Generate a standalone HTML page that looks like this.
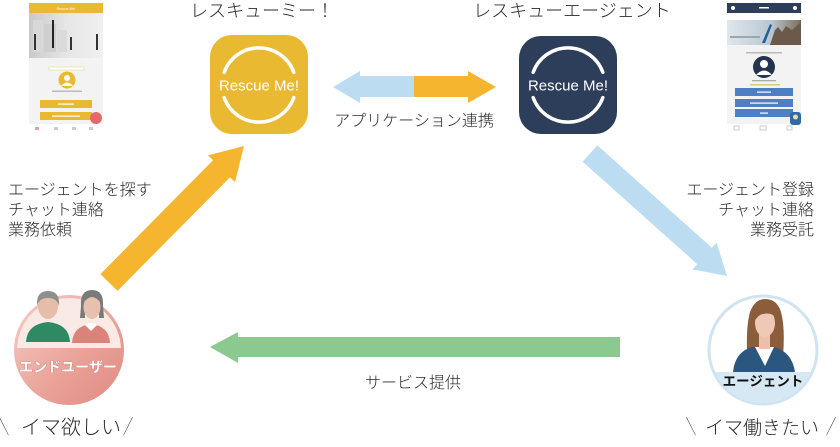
<!DOCTYPE html>
<html>
<head>
<meta charset="utf-8">
<style>
html,body{margin:0;padding:0;background:#fff;}
body{width:840px;height:447px;overflow:hidden;}
svg{display:block;}
.jp{font-family:"Liberation Sans","Noto Sans CJK JP",sans-serif;fill:#2a2a2a;font-weight:300;}
</style>
</head>
<body>
<svg width="840" height="447" viewBox="0 0 840 447" xmlns="http://www.w3.org/2000/svg">
<defs>
  <linearGradient id="gUser" x1="0" y1="0" x2="1" y2="1">
    <stop offset="0" stop-color="#f4cfc6"/>
    <stop offset="0.6" stop-color="#e9a097"/>
    <stop offset="1" stop-color="#e08a82"/>
  </linearGradient>
  <linearGradient id="gPhoto1" x1="0" y1="0" x2="1" y2="0">
    <stop offset="0" stop-color="#c9c9c9"/>
    <stop offset="0.5" stop-color="#e6e6e6"/>
    <stop offset="1" stop-color="#f0f0f0"/>
  </linearGradient>
  <linearGradient id="gPhoto2" x1="0" y1="0" x2="1" y2="0">
    <stop offset="0" stop-color="#dfe6ec"/>
    <stop offset="0.6" stop-color="#b9c7d3"/>
    <stop offset="1" stop-color="#7d6d5c"/>
  </linearGradient>
  <clipPath id="cUser"><circle cx="69" cy="350" r="52"/></clipPath>
  <clipPath id="cAgent"><circle cx="763" cy="350" r="52.5"/></clipPath>
</defs>

<!-- Titles -->
<text class="jp" x="262" y="17" font-size="18" text-anchor="middle">レスキューミー！</text>
<text class="jp" x="572" y="17" font-size="18" text-anchor="middle">レスキューエージェント</text>

<!-- Left phone -->
<g>
  <rect x="29" y="3" width="74" height="130" fill="#f3f3f3"/>
  <rect x="29" y="3" width="74" height="10" fill="#e9b931"/>
  <text x="66" y="10" font-size="3.5" fill="#fff" text-anchor="middle" font-family="Liberation Sans, sans-serif">Rescue Me!</text>
  <rect x="29" y="13" width="74" height="45" fill="url(#gPhoto1)"/>
  <rect x="33" y="20" width="10" height="32" fill="#d8d8d8"/>
  <rect x="44" y="24" width="12" height="28" fill="#cfcfcf"/>
  <rect x="57" y="30" width="10" height="22" fill="#dadada"/>
  <rect x="34" y="34" width="2" height="16" fill="#333"/>
  <rect x="52" y="20" width="2" height="28" fill="#222"/>
  <rect x="70" y="37" width="2" height="13" fill="#333"/>
  <rect x="96" y="34" width="2" height="16" fill="#333"/>
  <rect x="49" y="67" width="35" height="3" fill="#fff" stroke="#ecd48a" stroke-width="0.6"/>
  <circle cx="67" cy="80" r="8.5" fill="#e9b931"/>
  <circle cx="67" cy="78" r="3" fill="#fff"/>
  <path d="M61,86 Q67,79 73,86 Z" fill="#fff"/>
  <rect x="52" y="90.5" width="30" height="1.5" fill="#bbb"/>
  <rect x="40" y="100" width="52" height="8" fill="#e9b931"/>
  <rect x="40" y="112" width="52" height="8" fill="#e9b931"/>
  <rect x="58" y="103.5" width="16" height="1.2" fill="#fff"/>
  <rect x="52" y="115.5" width="28" height="1.2" fill="#fff"/>
  <rect x="29" y="124" width="74" height="9" fill="#fff"/>
  <circle cx="96" cy="118" r="6" fill="#e26a6a"/>
  <rect x="35" y="127" width="4" height="3" fill="#e9a0a0"/>
  <rect x="54" y="127" width="4" height="3" fill="#ccc"/>
  <rect x="72" y="127" width="4" height="3" fill="#ccc"/>
  <rect x="89" y="127" width="4" height="3" fill="#ccc"/>
</g>

<!-- Right phone -->
<g>
  <rect x="727" y="3" width="74" height="130" fill="#f3f3f3"/>
  <rect x="727" y="3" width="74" height="10" fill="#2c3e5a"/>
  <circle cx="733" cy="8" r="2" fill="#fff"/>
  <circle cx="795" cy="8" r="2" fill="#fff"/>
  <rect x="759" y="7" width="10" height="1.5" fill="#fff"/>
  <rect x="727" y="13" width="74" height="7" fill="#fff"/>
  <rect x="727" y="20" width="74" height="25" fill="url(#gPhoto2)"/>
  <path d="M770,45 L775,30 L778,27 L782,32 L786,26 L792,30 L801,22 L801,45 Z" fill="#6b5a4a"/>
  <path d="M762,43 L770,24 L772,25 L765,43 Z" fill="#1f5f9a"/>
  <rect x="730" y="36" width="30" height="2" fill="#9aa6b0"/>
  <rect x="746" y="52" width="36" height="1.5" fill="#bbb"/>
  <circle cx="764" cy="67" r="11" fill="#22344e"/>
  <circle cx="764" cy="64" r="4" fill="#fff"/>
  <path d="M756,75 Q764,66 772,75 Z" fill="#fff"/>
  <rect x="752" y="80" width="24" height="1.3" fill="#aaa"/>
  <rect x="750" y="84" width="30" height="1.5" fill="#d8c878"/>
  <rect x="735" y="88" width="58" height="8" fill="#4d7fc4"/>
  <rect x="735" y="99" width="58" height="8" fill="#4d7fc4"/>
  <rect x="735" y="109" width="58" height="8" fill="#4d7fc4"/>
  <rect x="757" y="91.5" width="14" height="1.2" fill="#fff"/>
  <rect x="750" y="102.5" width="28" height="1.2" fill="#fff"/>
  <rect x="760" y="112.5" width="8" height="1.2" fill="#fff"/>
  <rect x="727" y="124" width="74" height="9" fill="#fff"/>
  <rect x="734" y="126" width="5" height="4" fill="none" stroke="#aaa" stroke-width="0.6"/>
  <rect x="760" y="126" width="6" height="4" fill="none" stroke="#aaa" stroke-width="0.6"/>
  <rect x="787" y="126" width="5" height="4" fill="none" stroke="#aaa" stroke-width="0.6"/>
  <rect x="790" y="112" width="11" height="13" rx="3" fill="#2f6aa8"/>
  <circle cx="795.5" cy="117" r="2.5" fill="#f1d9a8"/>
</g>

<!-- Yellow icon -->
<rect x="210" y="35" width="98" height="99" rx="22" fill="#e9b931"/>
<path d="M224.2,72.3 A37,37 0 0 1 293.8,72.3" fill="none" stroke="#fff" stroke-width="3.5" stroke-linecap="round"/>
<path d="M224.2,97.7 A37,37 0 0 0 293.8,97.7" fill="none" stroke="#fff" stroke-width="3.5" stroke-linecap="round"/>
<text x="259" y="90.5" font-size="15" fill="#fff" text-anchor="middle" font-family="Liberation Sans, sans-serif">Rescue Me!</text>

<!-- Dark icon -->
<rect x="519" y="36" width="98" height="98" rx="22" fill="#2c3e5a"/>
<path d="M533.2,72.3 A37,37 0 0 1 602.8,72.3" fill="none" stroke="#fff" stroke-width="3.5" stroke-linecap="round"/>
<path d="M533.2,97.7 A37,37 0 0 0 602.8,97.7" fill="none" stroke="#fff" stroke-width="3.5" stroke-linecap="round"/>
<text x="568" y="90.5" font-size="15" fill="#fff" text-anchor="middle" font-family="Liberation Sans, sans-serif">Rescue Me!</text>

<!-- Double arrow -->
<polygon points="333,87 360,71 360,76 414,76 414,97 360,97 360,103" fill="#bcdcf2"/>
<polygon points="414,76 468,76 468,71 496,87 468,103 468,97 414,97" fill="#f5b52e"/>
<text class="jp" x="414" y="126" font-size="16" text-anchor="middle">アプリケーション連携</text>

<!-- Yellow diagonal arrow -->
<polygon points="117.5,290.9 230,177.2 235,182.1 244,146 208,155.4 213,160.3 100.5,274.1" fill="#f5b52e"/>

<!-- Blue diagonal arrow -->
<polygon points="582.7,161.7 697.3,264.2 692.6,269.4 727,276 716.6,242.6 711.9,247.8 597.3,145.3" fill="#bcdcf2"/>

<!-- Left labels -->
<text class="jp" x="8" y="195" font-size="16">エージェントを探す</text>
<text class="jp" x="8" y="215" font-size="16">チャット連絡</text>
<text class="jp" x="8" y="235" font-size="16">業務依頼</text>

<!-- Right labels -->
<text class="jp" x="814" y="195" font-size="16" text-anchor="end">エージェント登録</text>
<text class="jp" x="814" y="215" font-size="16" text-anchor="end">チャット連絡</text>
<text class="jp" x="814" y="235" font-size="16" text-anchor="end">業務受託</text>

<!-- Green arrow -->
<polygon points="210,347 238,332 238,337 620,337 620,357 238,357 238,363" fill="#8cc990"/>
<text class="jp" x="413" y="388" font-size="16" text-anchor="middle">サービス提供</text>

<!-- End user circle -->
<g>
  <circle cx="69" cy="350" r="55" fill="url(#gUser)"/>
  <g clip-path="url(#cUser)">
    <rect x="10" y="290" width="118" height="58" rx="4" fill="#faeae6"/>
  </g>
  <path d="M26,342 Q27,324 48,322 Q69,324 70,342 Z" fill="#2d8a63"/>
  <ellipse cx="48" cy="306" rx="10" ry="13" fill="#e6bcab"/>
  <path d="M37,306 Q36,291 48,291 Q60,291 59,306 Q57,298 48,298 Q39,298 37,306 Z" fill="#8e8e8e"/>
  <path d="M72,343 Q73,326 91,324 Q109,326 110,343 Z" fill="#d9837b"/>
  <path d="M85,325 L91,331 L97,325 L94,323 L88,323 Z" fill="#fff"/>
  <path d="M81,306 Q80,290 92,290 Q104,290 103,306 L104,318 L99,318 L99,304 L85,304 L85,318 L80,318 Z" fill="#7a7a7a"/>
  <ellipse cx="92" cy="307" rx="8.5" ry="12" fill="#e8c0b0"/>
  <path d="M83,303 Q84,293 92,293 Q100,293 101,303 Q96,297 92,297 Q88,297 83,303 Z" fill="#7a7a7a"/>
  <text x="68" y="372" font-size="14" font-weight="bold" fill="#fff" text-anchor="middle" stroke="#b86a62" stroke-width="0.6" paint-order="stroke" font-family="Liberation Sans, Noto Sans CJK JP, sans-serif">エンドユーザー</text>
</g>

<!-- Agent circle -->
<g>
  <circle cx="763" cy="350" r="54" fill="#fff" stroke="#cfe3f1" stroke-width="3"/>
  <g clip-path="url(#cAgent)">
    <rect x="700" y="372" width="130" height="40" fill="#d6e8f3"/>
  </g>
  <path d="M748,367 Q745,330 750,312 Q755,299 765,299 Q777,299 781,312 Q786,330 782,367 Z" fill="#8b5d3b"/>
  <path d="M733,372 Q735,352 752,347 L774,347 Q792,352 795,372 Z" fill="#2a5680"/>
  <path d="M755,347 L765,366 L774,347 Z" fill="#fff"/>
  <rect x="759" y="333" width="11" height="16" fill="#ecc0ad"/>
  <ellipse cx="765" cy="323" rx="10" ry="14" fill="#f0c9b6"/>
  <path d="M754,322 Q754,305 766,305 Q777,306 777,318 Q770,311 760,315 Q756,318 754,322 Z" fill="#8b5d3b"/>
  <text x="763" y="386" font-size="13.5" font-weight="bold" fill="#111" text-anchor="middle" font-family="Liberation Sans, Noto Sans CJK JP, sans-serif">エージェント</text>
</g>

<!-- Bottom taglines -->
<text class="jp" font-size="20" transform="translate(-1,434) scale(0.5,1)">＼</text>
<text class="jp" x="21" y="434" font-size="20">イマ欲しい</text>
<text class="jp" font-size="20" transform="translate(123,434) scale(0.5,1)">／</text>

<text class="jp" font-size="20" transform="translate(686,434) scale(0.5,1)">＼</text>
<text class="jp" x="705" y="434" font-size="19">イマ働きたい</text>
<text class="jp" font-size="20" transform="translate(826,434) scale(0.5,1)">／</text>
</svg>
</body>
</html>
